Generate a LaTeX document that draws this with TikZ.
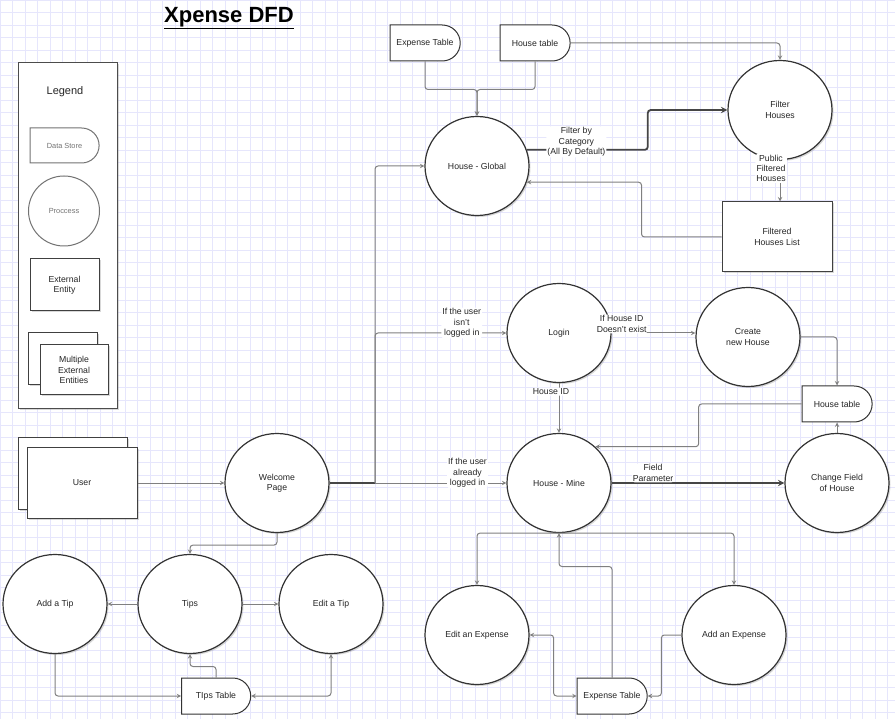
\documentclass[tikz,border=0pt]{standalone}
\usepackage{fontspec}
\setmainfont{Liberation Sans}
\usetikzlibrary{shapes.geometric,shapes.misc,shadows}
\definecolor{gridline}{RGB}{230,230,252}
\definecolor{linegray}{RGB}{128,128,128}
\definecolor{linedark}{RGB}{70,70,70}

\begin{document}
\begin{tikzpicture}[x=1pt,y=-1pt,>=stealth,
  every node/.style={font=\fontsize{8.7}{10.4}\selectfont,text=black!85},
  shade/.style={drop shadow={shadow xshift=1.5pt,shadow yshift=-1.5pt,opacity=0.3}},
  proc/.style={ellipse,draw=black!80,line width=1.2pt,fill=white,minimum width=104pt,
    minimum height=99pt,inner sep=0pt,align=center,shade},
  store/.style={rounded rectangle,rounded rectangle left arc=none,draw=black!80,
    line width=1pt,fill=white,minimum width=70pt,minimum height=36pt,inner sep=0pt},
  entity/.style={rectangle,draw=black!75,line width=1pt,fill=white,minimum width=110pt,
    minimum height=70pt,inner sep=0pt,align=center,shade},
  flow/.style={draw=linegray,line width=1pt,rounded corners=3pt,->},
  mainflow/.style={draw=linedark,line width=1.8pt,rounded corners=3pt,->},
  lbl/.style={fill=white,inner sep=1pt,align=center}]
\useasboundingbox (0,0) rectangle (895,719);
\fill[white] (0,0) rectangle (895,719);
\draw[gridline,line width=0.6pt,xstep=12.5pt,ystep=12.5pt] (0,0) grid (895,719);

% title
\node[font=\fontsize{22}{24}\selectfont\bfseries,text=black] (title) at (229,18) {\underline{Xpense DFD}};

% legend
\node[draw=black!70,line width=1pt,fill=white,minimum width=99pt,minimum height=346pt,shade] (legend) at (67.5,236) {};
\node[font=\fontsize{11}{13}\selectfont] (legendtxt) at (65,92) {Legend};
\node[store,draw=black!55,minimum width=69pt,minimum height=35pt,font=\fontsize{7.4}{9}\selectfont,text=black!55] (lgstore) at (64.5,145.5) {Data Store};
\node[ellipse,draw=black!55,line width=1pt,minimum width=71pt,minimum height=70pt,inner sep=0pt,font=\fontsize{7.4}{9}\selectfont,text=black!55] (lgproc) at (64,211) {Proccess};
\node[entity,minimum width=69pt,minimum height=52pt] (lgentity) at (64.5,285) {External\\Entity};
\node[entity,minimum width=69pt,minimum height=52pt] (lgmultiback) at (62.5,359) {};
\node[entity,minimum width=68pt,minimum height=50pt] (lgmulti) at (74,370) {Multiple\\External\\Entities};

% data stores
\node[store] (exptabtop) at (425,43) {Expense Table};
\node[store] (housetabtop) at (535,43) {House table};
\node[store] (housetab) at (837,404) {House table};
\node[store] (exptab) at (612,696) {Expense Table};
\node[store,minimum width=69pt] (tipstab) at (216,696) {TIps Table};

% processes
\node[proc] (global) at (477,166) {House - Global};
\node[proc] (filter) at (780,110) {Filter\\Houses};
\node[proc] (login) at (559,333) {Login};
\node[proc] (create) at (748,337) {Create\\new House};
\node[proc] (welcome) at (277,483) {Welcome\\Page};
\node[proc] (mine) at (559,483) {House - Mine};
\node[proc] (change) at (837,483) {Change Field\\of House};
\node[proc] (editexp) at (477,635) {Edit an Expense};
\node[proc] (addexp) at (734,635) {Add an Expense};
\node[proc] (tips) at (190,604) {Tips};
\node[proc] (addtip) at (55,604) {Add a Tip};
\node[proc] (edittip) at (331,604) {Edit a Tip};

% entities
\node[entity] (filtered) at (777,237) {Filtered\\Houses List};
\node[entity,minimum width=109pt,minimum height=71pt] (userback) at (72.5,473.5) {};
\node[entity] (user) at (82,483) {User};

\coordinate (spine) at (375,483);

% flows, top
\draw[flow] (exptabtop.south) -- ++(0,28) -| (global.north);
\draw[flow] (housetabtop.south) -- ++(0,28) -| (global.north);
\draw[flow] (housetabtop.east) -| (filter.north);
\draw[mainflow] (global.18) -- ++(121,0) node[lbl,pos=0.41,yshift=8pt] {Filter by\\Category\\(All By Default)} |- (filter.west);
\draw[flow] (filter.south) -- (filter.south |- filtered.north) node[lbl,pos=0.2,xshift=-9pt] {Public\\Filtered\\Houses};
\draw[flow] (filtered.west) -- ++(-80,0) |- (global.-18);

% flows, middle
\draw[flow] (user.east) -- (welcome.west);
\draw[flow] (welcome.east) -- (mine.west) node[lbl,pos=0.78,yshift=10pt] {If the user\\already\\logged in};
\draw[mainflow,-] (welcome.east) -- (spine);
\draw[flow] (spine) |- (global.west);
\draw[flow] (spine) |- (login.west) node[lbl,pos=0.83,yshift=10pt] {If the user\\isn't\\logged in};
\draw[flow] (login.east) -- (login.east -| create.west) node[lbl,pos=0.12,yshift=9pt] {If House ID\\Doesn't exist};
\draw[flow] (login.south) -- (mine.north) node[lbl,pos=0.17,xshift=-8pt] {House ID};
\draw[flow] (create.east) -| (housetab.north);
\draw[flow] (housetab.west) -- ++(-103,0) |- (mine.45);
\draw[flow] (change.north) -- (housetab.south);
\draw[mainflow] (mine.east) -- (change.west) node[lbl,pos=0.24,yshift=10pt,text=black!85] {Field\\Parameter};

% flows, expenses
\draw[flow] (mine.south) -| (editexp.north);
\draw[flow] (mine.south) -| (addexp.north);
\draw[flow] (exptab.north) -- ++(0,-111) -| (mine.south);
\draw[flow,<->] (editexp.east) -- ++(24,0) |- (exptab.west);
\draw[flow] (addexp.west) -- ++(-20,0) |- (exptab.east);

% flows, tips
\draw[flow] (welcome.south) -- ++(0,12) -| (tips.north);
\draw[flow] (tips.west) -- (addtip.east);
\draw[flow] (tips.east) -- (edittip.west);
\draw[flow] (tipstab.north) -- ++(0,-11) -| (tips.south);
\draw[flow] (addtip.south) |- (tipstab.west);
\draw[flow,<->] (edittip.south) |- (tipstab.east);
\end{tikzpicture}
\end{document}
